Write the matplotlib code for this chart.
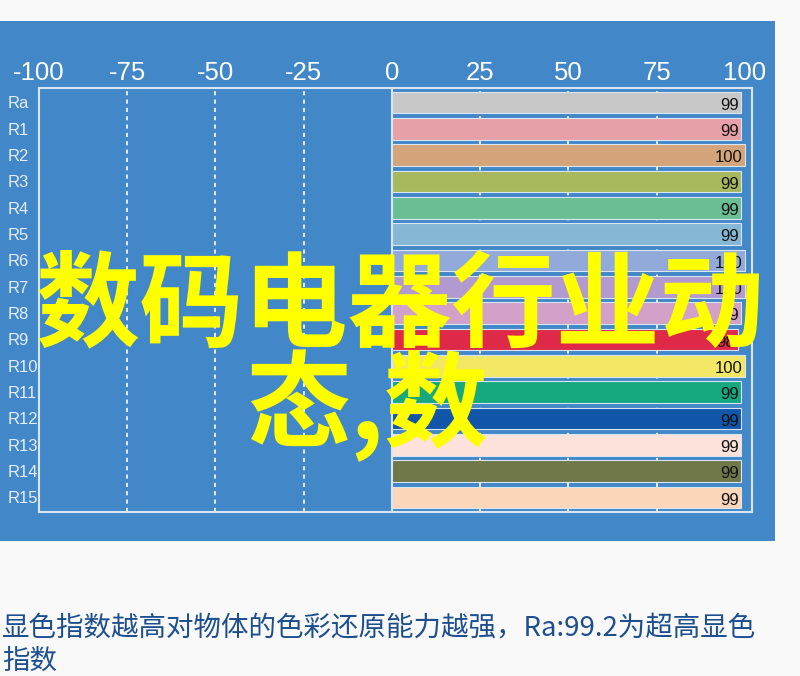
import matplotlib
matplotlib.use("Agg")
import matplotlib.pyplot as plt
from matplotlib.patches import Rectangle

# data
labels = ["Ra", "R1", "R2", "R3", "R4", "R5", "R6", "R7",
          "R8", "R9", "R10", "R11", "R12", "R13", "R14", "R15"]
values = [99, 99, 100, 99, 99, 99, 100, 100,
          99, 98, 100, 99, 99, 99, 99, 99]
colors = ["#C8C8C8", "#E8A0A8", "#D4A47A", "#A8B85C", "#6ABE94", "#84B8D4",
          "#92AADA", "#B29AD0", "#D2A0C8", "#DE2A48", "#F2E866", "#16A87E",
          "#1156A8", "#FCE2DA", "#70784A", "#FCD6BA"]
xticks = [-100, -75, -50, -25, 0, 25, 50, 75, 100]

overlay_1 = "数码电器行业动"
overlay_2 = "态,数"
caption_1 = "显色指数越高对物体的色彩还原能力越强，Ra:99.2为超高显色"
caption_2 = "指数"

W, H = 800, 676
BLUE = "#4287C8"
LIGHT = "#D8E6F4"

fig = plt.figure(figsize=(W / 100, H / 100), dpi=100, facecolor="#F9F9F9")

# blue panel behind the chart
fig.patches.append(Rectangle((0, 1 - 541 / H), 775 / W, (541 - 21) / H,
                             transform=fig.transFigure, facecolor=BLUE,
                             edgecolor="none", zorder=-5))

ax = fig.add_axes([39 / W, 1 - 512 / H, (752 - 39) / W, (512 - 88) / H])
ax.set_facecolor(BLUE)

ypos = list(range(len(labels)))
ax.barh(ypos, values, height=0.82, color=colors, edgecolor=LIGHT,
        linewidth=0.8, zorder=3)
for y, v, lab in zip(ypos, values, labels):
    ax.text(v - 0.8, y + 0.1, str(v), ha="right", va="center",
            fontsize=12, color="#111111", family="Liberation Sans", zorder=4)
    ax.text(-0.044, y + 0.05, lab, transform=ax.get_yaxis_transform(),
            ha="left", va="center", fontsize=12, color="#E6EEF8",
            family="Liberation Sans")

ax.set_xlim(-100, 102)
ax.set_ylim(len(labels) - 0.45, -0.55)
ax.set_yticks([])
ax.set_xticks(xticks)
ax.set_xticklabels([str(t) for t in xticks], family="Liberation Sans",
                   fontsize=18.5, color="white")
ax.xaxis.tick_top()
ax.tick_params(axis="x", length=0, pad=2)

for t in [-75, -50, -25, 25, 50, 75]:
    ax.axvline(t, color="white", linestyle=(0, (2.5, 2.5)), linewidth=1.2, zorder=1)
ax.axvline(0, color=LIGHT, linewidth=1.5, zorder=2)

for s in ax.spines.values():
    s.set_color(LIGHT)
    s.set_linewidth(1.5)

# big yellow overlay text
cjk = ["Noto Sans CJK SC", "DejaVu Sans"]
fig.text(36 / W, 1 - 308 / H, overlay_1, ha="left", va="center", fontsize=75,
         color="#FFFF00", fontweight="bold", family=cjk, zorder=10)
fig.text(246 / W, 1 - 406 / H, overlay_2, ha="left", va="center", fontsize=75,
         color="#FFFF00", fontweight="bold", family=cjk, zorder=10)

# caption below the panel
fig.text(2 / W, 1 - 628 / H, caption_1, ha="left", va="center", fontsize=19.8,
         color="#1D4F8F", family=cjk)
fig.text(2 / W, 1 - 661 / H, caption_2, ha="left", va="center", fontsize=19.8,
         color="#1D4F8F", family=cjk)

fig.savefig("out.png", dpi=100, facecolor=fig.get_facecolor())
